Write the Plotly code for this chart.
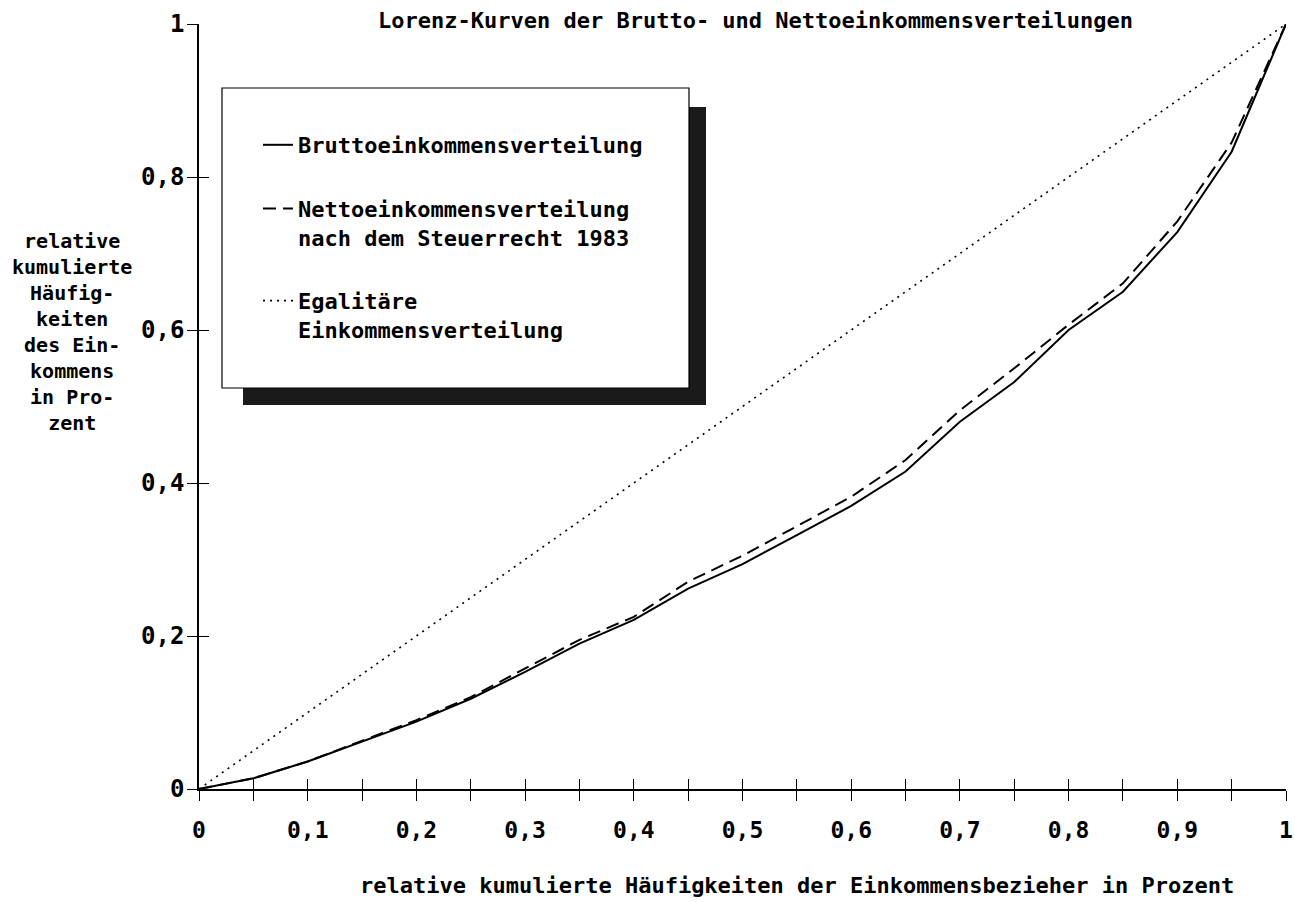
import plotly.graph_objects as go

# ---- data ----
x_share = [0, 0.05, 0.1, 0.15, 0.2, 0.25, 0.3, 0.35, 0.4, 0.45, 0.5,
           0.55, 0.6, 0.65, 0.7, 0.75, 0.8, 0.85, 0.9, 0.95, 1.0]
brutto = [0, 0.014, 0.036, 0.062, 0.088, 0.118, 0.153, 0.190, 0.221, 0.262, 0.294,
          0.332, 0.370, 0.415, 0.480, 0.532, 0.600, 0.650, 0.728, 0.833, 1.0]
netto = [0, 0.014, 0.036, 0.063, 0.090, 0.120, 0.157, 0.195, 0.225, 0.271, 0.305,
         0.344, 0.382, 0.430, 0.495, 0.550, 0.607, 0.661, 0.742, 0.845, 1.0]
egal_x = [0, 1]
egal_y = [0, 1]

names = ["Bruttoeinkommensverteilung",
         "Nettoeinkommensverteilung<br>nach dem Steuerrecht 1983",
         "Egalitäre<br>Einkommensverteilung"]

title_text = "Lorenz-Kurven der Brutto- und Nettoeinkommensverteilungen"
xtitle_text = "relative kumulierte Häufigkeiten der Einkommensbezieher in Prozent"
ytitle_text = "relative<br>kumulierte<br>Häufig-<br>keiten<br>des Ein-<br>kommens<br>in Pro-<br>zent"

FONT = "DejaVu Sans Mono"

fig = go.Figure()
fig.add_trace(go.Scatter(x=x_share, y=brutto, mode="lines", name=names[0],
                         legendgroup="a",
                         line=dict(color="black", width=2)))
fig.add_trace(go.Scatter(x=x_share, y=netto, mode="lines", name=names[1],
                         legendgroup="b",
                         line=dict(color="black", width=2, dash="13px,7px")))
fig.add_trace(go.Scatter(x=egal_x, y=egal_y, mode="lines", name=names[2],
                         legendgroup="c",
                         line=dict(color="black", width=1.6, dash="2px,5px")))

# plot area in page pixels: x 199..1286, y 24..789
def px2paper_x(px):
    return (px - 199) / 1087

def px2paper_y(py):
    return (789 - py) / 765

shapes = [
    # legend shadow
    dict(type="rect", xref="paper", yref="paper",
         x0=px2paper_x(243), x1=px2paper_x(706), y0=px2paper_y(405), y1=px2paper_y(107),
         fillcolor="#1a1a1a", line=dict(width=0), layer="above"),
    # legend box
    dict(type="rect", xref="paper", yref="paper",
         x0=px2paper_x(222), x1=px2paper_x(689), y0=px2paper_y(388), y1=px2paper_y(88),
         fillcolor="white", line=dict(color="black", width=1.2), layer="above"),
]

annotations = [
    dict(text=title_text, xref="paper", yref="paper",
         x=px2paper_x(755), y=px2paper_y(20), xanchor="center", yanchor="middle",
         showarrow=False, font=dict(family=FONT, size=22, color="black", weight="bold")),
    dict(text=xtitle_text, xref="paper", yref="paper",
         x=px2paper_x(797), y=px2paper_y(885), xanchor="center", yanchor="middle",
         showarrow=False, font=dict(family=FONT, size=22, color="black", weight="bold")),
    dict(text=ytitle_text, xref="paper", yref="paper",
         x=px2paper_x(72), y=px2paper_y(332), xanchor="center", yanchor="middle",
         showarrow=False, align="center",
         font=dict(family=FONT, size=20, color="black", weight="bold")),
]

axis_common = dict(range=[0, 1], showgrid=False, zeroline=False, automargin=False,
                   showline=True, linecolor="black", linewidth=1.5,
                   tickcolor="black", tickwidth=1.3, ticklen=10)

fig.update_layout(
    width=1295, height=902,
    margin=dict(l=199, r=9, t=24, b=113, pad=0),
    paper_bgcolor="white", plot_bgcolor="white",
    separators=",.",
    showlegend=True,
    legend=dict(x=px2paper_x(258), y=px2paper_y(124), xanchor="left", yanchor="top",
                bgcolor="rgba(0,0,0,0)", borderwidth=0,
                font=dict(family=FONT, size=22, color="black", weight="bold"),
                tracegroupgap=32, valign="top", itemwidth=30),
    xaxis=dict(**axis_common, dtick=0.1, tick0=0, ticks="outside",
               ticklabelstandoff=10,
               minor=dict(dtick=0.05, ticks="outside", ticklen=10, tickcolor="black", tickwidth=1.3),
               tickfont=dict(family=FONT, size=23, color="black", weight="bold")),
    xaxis2=dict(**axis_common, dtick=0.1, tick0=0, ticks="inside", overlaying="x",
                anchor="y", showticklabels=False,
                minor=dict(dtick=0.05, ticks="inside", ticklen=10, tickcolor="black", tickwidth=1.3)),
    yaxis=dict(**axis_common, dtick=0.2, tick0=0, ticks="outside",
               ticklabelstandoff=-2,
               tickfont=dict(family=FONT, size=24, color="black", weight="bold")),
    yaxis2=dict(**axis_common, dtick=0.2, tick0=0, ticks="inside", overlaying="y",
                anchor="x", side="left", showticklabels=False),
    shapes=shapes,
    annotations=annotations,
)

# invisible helper trace so the secondary axes render
fig.add_trace(go.Scatter(x=[None], y=[None], xaxis="x2", yaxis="y2",
                         showlegend=False, hoverinfo="skip"))

fig.write_html(
    "out.html",
    config={"displayModeBar": False},
    post_script="document.body.style.margin='0';document.documentElement.style.overflow='hidden';",
)
